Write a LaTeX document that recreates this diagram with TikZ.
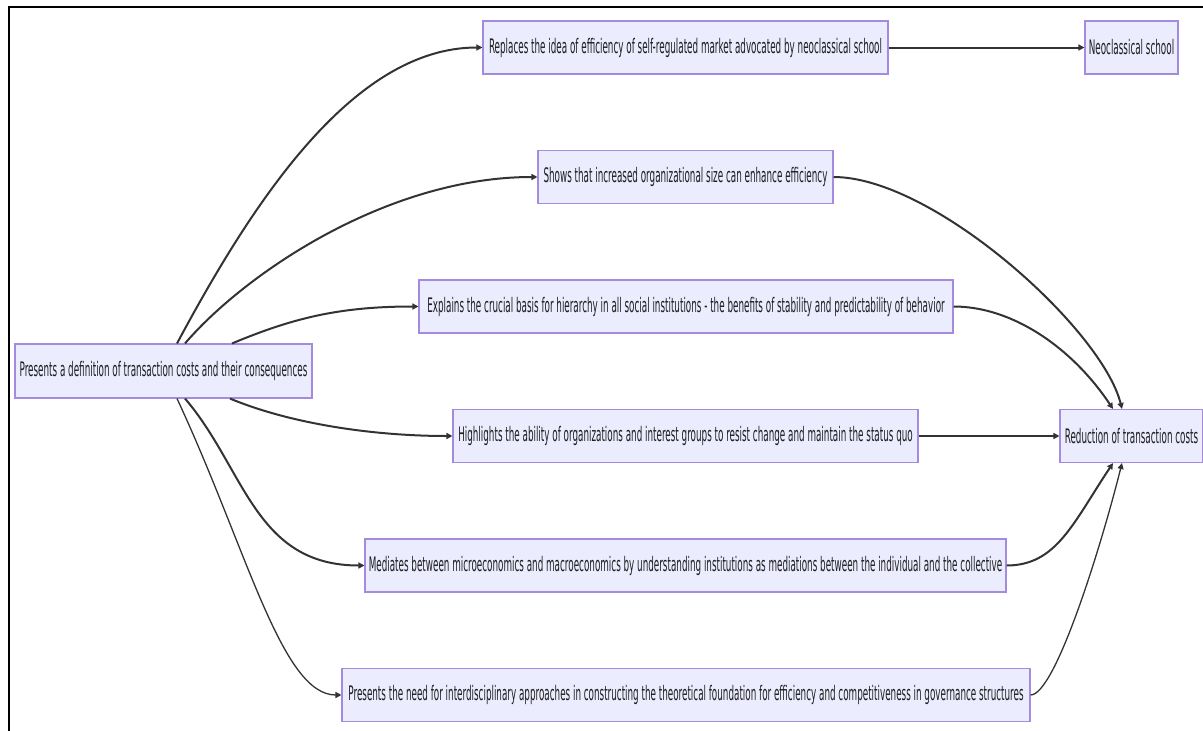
\documentclass[tikz,border=0pt]{standalone}
\usepackage{fontspec}
\setmainfont{DejaVu Sans}[FakeStretch=0.44]
\usetikzlibrary{arrows.meta}
\definecolor{nodefill}{HTML}{ECECFF}
\definecolor{nodestroke}{HTML}{A58BE0}
\definecolor{edgecol}{HTML}{333333}
\begin{document}
\begin{tikzpicture}[x=1pt,y=1pt,
  box/.style={draw=nodestroke, fill=nodefill, line width=1.1pt, inner sep=0pt,
    minimum height=53pt, text=black!88, font=\fontsize{20}{22}\selectfont},
  edge/.style={draw=edgecol, line width=2pt, -{Triangle[length=6pt,width=6pt]}},
  thinedge/.style={edge, line width=1.3pt}
]
\useasboundingbox (0,0) rectangle (1203,-731);
\draw[line width=2.8pt] (9,-731) -- (9,-7) -- (1203,-7);

\node[box, minimum width=297pt, minimum height=54pt] (src) at (163.5,-371) {Presents a definition of transaction costs and their consequences};
\node[box, minimum width=405pt] (n1) at (685.5,-47.5) {Replaces the idea of efficiency of self-regulated market advocated by neoclassical school};
\node[box, minimum width=93pt] (neo) at (1131.5,-47.5) {Neoclassical school};
\node[box, minimum width=295pt] (n2) at (685.5,-177) {Shows that increased organizational size can enhance efficiency};
\node[box, minimum width=534pt] (n3) at (686,-306.5) {Explains the crucial basis for hierarchy in all social institutions - the benefits of stability and predictability of behavior};
\node[box, minimum width=465pt] (n4) at (685.5,-436) {Highlights the ability of organizations and interest groups to resist change and maintain the status quo};
\node[box, minimum width=641pt] (n5) at (685.5,-565.5) {Mediates between microeconomics and macroeconomics by understanding institutions as mediations between the individual and the collective};
\node[box, minimum width=688pt] (n6) at (686,-695) {Presents the need for interdisciplinary approaches in constructing the theoretical foundation for efficiency and competitiveness in governance structures};
\node[box, minimum width=143pt] (red) at (1131.5,-436) {Reduction of transaction costs};

\draw[edge] ([xshift=13.5pt]src.north) .. controls +(75,140) and +(-130,0) .. (n1.west);
\draw[edge] ([xshift=21.5pt]src.north) .. controls +(60,70) and +(-150,0) .. (n2.west);
\draw[edge] ([xshift=68.5pt]src.north) .. controls +(60,25) and +(-80,0) .. (n3.west);
\draw[edge] ([xshift=66.5pt]src.south) .. controls +(60,-25) and +(-80,0) .. (n4.west);
\draw[edge] ([xshift=21.5pt]src.south) .. controls +(60,-70) and +(-110,0) .. (n5.west);
\draw[thinedge] ([xshift=13.5pt]src.south) .. controls +(70,-150) and +(-60,0) .. (n6.west);

\draw[edge] (n1.east) -- (neo.west);
\draw[edge] (n2.east) .. controls +(100,0) and +(-20,80) .. ([xshift=-9.5pt]red.north);
\draw[edge] (n3.east) .. controls +(60,0) and +(-40,60) .. ([xshift=-18.5pt]red.north);
\draw[edge] (n4.east) -- (red.west);
\draw[edge] (n5.east) .. controls +(50,0) and +(-40,-60) .. ([xshift=-18.5pt]red.south);
\draw[thinedge] (n6.east) .. controls +(25,0) and +(-20,-80) .. ([xshift=-9.5pt]red.south);
\end{tikzpicture}
\end{document}
